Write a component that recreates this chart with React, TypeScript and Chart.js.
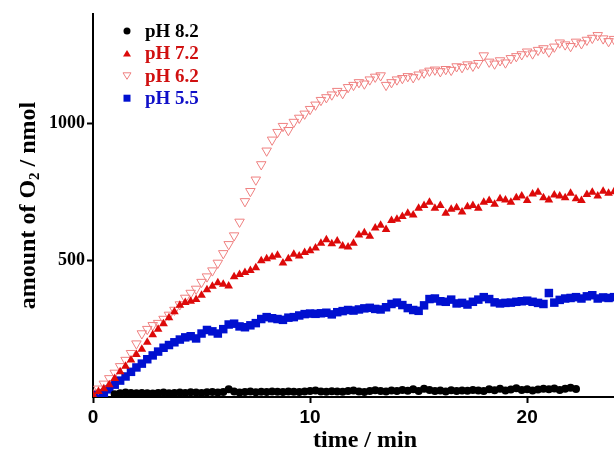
import React, { useEffect, useRef } from "react";
import { Chart, registerables } from "chart.js";

Chart.register(...registerables);

const times = [
  0, 0.25, 0.5, 0.75, 1, 1.25, 1.5, 1.75, 2, 2.25, 2.5, 2.75, 3, 3.25, 3.5, 3.75,
  4, 4.25, 4.5, 4.75, 5, 5.25, 5.5, 5.75, 6, 6.25, 6.5, 6.75, 7, 7.25, 7.5, 7.75,
  8, 8.25, 8.5, 8.75, 9, 9.25, 9.5, 9.75, 10, 10.25, 10.5, 10.75, 11, 11.25, 11.5, 11.75,
  12, 12.25, 12.5, 12.75, 13, 13.25, 13.5, 13.75, 14, 14.25, 14.5, 14.75, 15, 15.25, 15.5, 15.75,
  16, 16.25, 16.5, 16.75, 17, 17.25, 17.5, 17.75, 18, 18.25, 18.5, 18.75, 19, 19.25, 19.5, 19.75,
  20, 20.25, 20.5, 20.75, 21, 21.25, 21.5, 21.75, 22, 22.25, 22.5, 22.75, 23, 23.25, 23.5, 23.75, 24,
];

const ph82 = [
  null, null, null, null, 10, 14, 16, 15, 14, 15, 14, 13, 15, 16, 14, 15,
  16, 15, 17, 16, 15, 17, 18, 16, 18, 28, 20, 16, 18, 20, 17, 19,
  18, 20, 19, 18, 20, 19, 18, 20, 22, 24, 20, 19, 21, 20, 19, 22,
  24, 20, 18, 22, 25, 22, 20, 24, 22, 26, 23, 28, 22, 30, 26, 22,
  24, 20, 25, 22, 24, 23, 26, 24, 22, 28, 25, 30, 24, 27, 32, 26,
  28, 24, 27, 30, 28, 31, 26, 30, 34, 29, null, null, null, null, null, null, null,
];

const ph72 = [
  8, 20, 30, 45, 68, 92, 112, 135, 155, 175, 200, 228, 248, 268, 290, 312,
  335, 345, 350, 356, 372, 392, 405, 418, 412, 406, 440, 448, 455, 462, 472, 498,
  505, 512, 518, 490, 505, 522, 515, 528, 535, 545, 562, 575, 560, 570, 552, 548,
  562, 592, 600, 588, 618, 628, 612, 645, 650, 660, 672, 665, 690, 700, 712, 690,
  700, 672, 686, 692, 676, 695, 700, 690, 712, 718, 705, 725, 720, 712, 728, 735,
  718, 742, 748, 728, 720, 738, 735, 728, 745, 725, 718, 740, 748, 735, 752, 745, 750,
];

const ph62 = [
  15, 30, 48, 68, 88, 112, 135, 160, 195, 232, 248, 262, 270, 285, 300, 318,
  338, 362, 380, 395, 420, 440, 462, 490, 525, 558, 590, 640, 715, 752, 794, 850,
  900, 940, 968, 990, 975, 1005, 1020, 1035, 1052, 1068, 1085, 1095, 1105, 1118, 1110, 1132,
  1140, 1150, 1145, 1160, 1170, 1175, 1140, 1150, 1160, 1165, 1172, 1168, 1178, 1185, 1192, 1196,
  1190, 1198, 1195, 1208, 1205, 1215, 1210, 1220, 1248, 1225, 1218, 1230, 1222, 1238, 1245, 1252,
  1262, 1255, 1268, 1274, 1262, 1280, 1295, 1288, 1282, 1298, 1292, 1305, 1312, 1322, 1310, 1300, 1308,
];

const ph55 = [
  8, 10, 14, 28, 45, 60, 75, 92, 108, 122, 138, 152, 166, 180, 190, 200,
  210, 218, 222, 214, 232, 245, 240, 232, 248, 265, 268, 258, 255, 262, 270, 285,
  292, 288, 285, 282, 290, 292, 298, 303, 305, 304, 306, 308, 302, 310, 314, 318,
  316, 320, 324, 326, 322, 320, 328, 340, 345, 336, 325, 318, 315, 335, 358, 360,
  350, 348, 356, 342, 344, 338, 348, 356, 365, 358, 346, 342, 344, 345, 348, 350,
  352, 348, 344, 340, 380, 345, 355, 360, 362, 365, 360, 368, 372, 360, 364, 362, 365,
];

const seriesLabels = ["pH 8.2", "pH 7.2", "pH 6.2", "pH 5.5"];
const xTicks = [0, 10, 20];
const yTicks = [500, 1000];

const BLACK = "#000000";
const RED = "#dd0a0a";
const PINK = "#ef8080";
const BLUE = "#0010d0";
const TEXT_RED = "#d01010";
const TEXT_BLUE = "#1010c8";

function pts(vals: (number | null)[]) {
  const out: { x: number; y: number }[] = [];
  vals.forEach((v, i) => {
    if (v !== null) out.push({ x: times[i], y: v });
  });
  return out;
}

const overlayPlugin = {
  id: "overlay",
  afterDraw(chart: any) {
    const ctx = chart.ctx as CanvasRenderingContext2D;
    const area = chart.chartArea;
    ctx.save();
    // legend
    const rows = [
      { label: seriesLabels[0], color: BLACK, text: BLACK, shape: "circle" },
      { label: seriesLabels[1], color: RED, text: TEXT_RED, shape: "tri" },
      { label: seriesLabels[2], color: PINK, text: TEXT_RED, shape: "dtri" },
      { label: seriesLabels[3], color: BLUE, text: TEXT_BLUE, shape: "rect" },
    ];
    const mx = 127;
    const tx = 145;
    rows.forEach((r, i) => {
      const y = 31 + i * 22.4;
      ctx.fillStyle = r.color;
      ctx.strokeStyle = r.color;
      ctx.lineWidth = 1;
      ctx.beginPath();
      if (r.shape === "circle") {
        ctx.arc(mx, y, 3.5, 0, Math.PI * 2);
        ctx.fill();
      } else if (r.shape === "tri") {
        ctx.moveTo(mx, y - 3.5);
        ctx.lineTo(mx + 4, y + 3);
        ctx.lineTo(mx - 4, y + 3);
        ctx.closePath();
        ctx.fill();
      } else if (r.shape === "dtri") {
        ctx.moveTo(mx, y + 3.5);
        ctx.lineTo(mx + 4, y - 3);
        ctx.lineTo(mx - 4, y - 3);
        ctx.closePath();
        ctx.stroke();
      } else {
        ctx.rect(mx - 3.5, y - 3.5, 7, 7);
        ctx.fill();
      }
      ctx.fillStyle = r.text;
      ctx.font = "bold 19px 'Liberation Serif', 'Times New Roman', serif";
      ctx.textAlign = "left";
      ctx.textBaseline = "middle";
      ctx.fillText(r.label, tx, y + 1);
    });

    // x title
    ctx.fillStyle = "#000";
    ctx.font = "bold 24px 'Liberation Serif', 'Times New Roman', serif";
    ctx.textAlign = "center";
    ctx.textBaseline = "middle";
    ctx.fillText("time / min", 365, 441);

    // y title with subscript
    const main = "bold 24px 'Liberation Serif', 'Times New Roman', serif";
    const sub = "bold 15px 'Liberation Serif', 'Times New Roman', serif";
    const p1 = "amount of O";
    const p2 = "2";
    const p3 = " / nmol";
    ctx.font = main;
    const w1 = ctx.measureText(p1).width;
    const w3 = ctx.measureText(p3).width;
    ctx.font = sub;
    const w2 = ctx.measureText(p2).width;
    const total = w1 + w2 + w3;
    const cy = (area.top + area.bottom) / 2;
    ctx.translate(27, cy);
    ctx.rotate(-Math.PI / 2);
    ctx.textAlign = "left";
    ctx.textBaseline = "alphabetic";
    let x0 = -total / 2;
    ctx.font = main;
    ctx.fillText(p1, x0, 8);
    x0 += w1;
    ctx.font = sub;
    ctx.fillText(p2, x0, 12);
    x0 += w2;
    ctx.font = main;
    ctx.fillText(p3, x0, 8);
    ctx.restore();
  },
};

export default function App() {
  const ref = useRef<HTMLCanvasElement | null>(null);
  useEffect(() => {
    if (!ref.current) return;
    const chart = new Chart(ref.current, {
      type: "scatter",
      data: {
        datasets: [
          {
            label: seriesLabels[0],
            data: pts(ph82),
            pointStyle: "circle",
            pointRadius: 4,
            backgroundColor: BLACK,
            borderColor: BLACK,
            borderWidth: 0,
          },
          {
            label: seriesLabels[1],
            data: pts(ph72),
            pointStyle: "triangle",
            pointRadius: 5,
            backgroundColor: RED,
            borderColor: RED,
            borderWidth: 0,
          },
          {
            label: seriesLabels[2],
            data: pts(ph62),
            pointStyle: "triangle",
            rotation: 180,
            pointRadius: 5.5,
            backgroundColor: "rgba(0,0,0,0)",
            borderColor: PINK,
            borderWidth: 1,
          },
          {
            label: seriesLabels[3],
            data: pts(ph55),
            pointStyle: "rect",
            pointRadius: 6,
            backgroundColor: BLUE,
            borderColor: BLUE,
            borderWidth: 0,
          },
        ],
      },
      options: {
        animation: false,
        responsive: true,
        maintainAspectRatio: false,
        layout: { autoPadding: false, padding: { top: 14, right: 0, left: 0, bottom: 0 } },
        plugins: {
          legend: { display: false },
          tooltip: { enabled: false },
          title: { display: false },
        },
        scales: {
          x: {
            type: "linear",
            min: 0,
            max: 24,
            afterFit: (s: any) => {
              s.height = 55;
            },
            afterBuildTicks: (s: any) => {
              s.ticks = xTicks.map((v) => ({ value: v }));
            },
            ticks: {
              includeBounds: false,
              stepSize: 10,
              color: "#000",
              padding: 3,
              maxRotation: 0,
              callback: (v: any) => String(v),
              font: { family: "'Liberation Sans', Arial, sans-serif", weight: "bold", size: 19 },
            },
            grid: {
              drawOnChartArea: false,
              drawTicks: true,
              tickLength: 6,
              tickWidth: 2,
              color: "#000",
            },
            border: { display: true, color: "#000", width: 2 },
          },
          y: {
            type: "linear",
            min: 0,
            max: 1400,
            afterFit: (s: any) => {
              s.width = 93;
            },
            afterBuildTicks: (s: any) => {
              s.ticks = yTicks.map((v) => ({ value: v }));
            },
            ticks: {
              includeBounds: false,
              stepSize: 500,
              color: "#000",
              padding: 2,
              callback: (v: any) => String(v),
              font: { family: "'Liberation Serif', 'Times New Roman', serif", weight: "bold", size: 18 },
            },
            grid: {
              drawOnChartArea: false,
              drawTicks: true,
              tickLength: 6,
              tickWidth: 2,
              color: "#000",
            },
            border: { display: true, color: "#000", width: 2 },
          },
        },
      },
      plugins: [overlayPlugin],
    } as any);
    return () => chart.destroy();
  }, []);
  return (
    <div style={{ position: "absolute", left: 0, top: 0, width: 614, height: 452, background: "#fff" }}>
      <canvas ref={ref} />
    </div>
  );
}
